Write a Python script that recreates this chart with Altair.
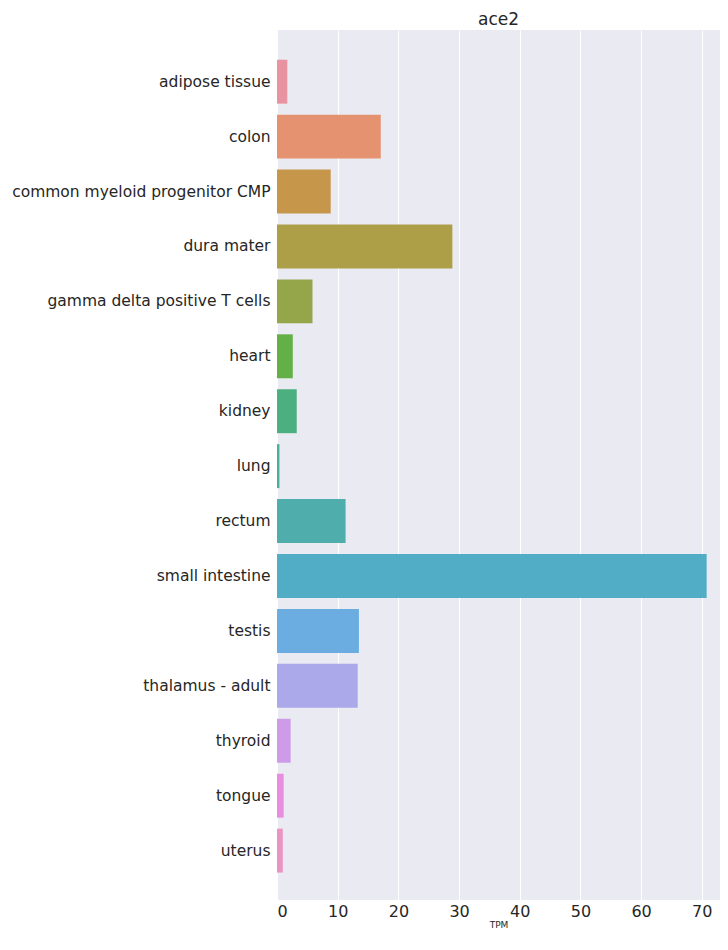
import altair as alt
import pandas as pd

tissues = [
    "adipose tissue", "colon", "common myeloid progenitor CMP", "dura mater",
    "gamma delta positive T cells", "heart", "kidney", "lung", "rectum",
    "small intestine", "testis", "thalamus - adult", "thyroid", "tongue", "uterus",
]
tpm = [1.7, 17.1, 8.85, 28.9, 5.85, 2.6, 3.25, 0.4, 11.3, 70.8, 13.5, 13.3, 2.25, 1.1, 0.95]
colors = [
    "#E8939F", "#E4926F", "#C6964B", "#AD9E48", "#94A54A", "#62B047", "#4BAF7F",
    "#4BAF98", "#4FADAC", "#51ADC5", "#6CADE1", "#ABA9EA", "#CE9BE8", "#E78FDE", "#EA94C4",
]
x_ticks = [0, 10, 20, 30, 40, 50, 60, 70]

df = pd.DataFrame({"tissue": tissues, "TPM": tpm})

font = "DejaVu Sans"

chart = alt.Chart(df).mark_bar(opacity=1).encode(
    y=alt.Y(
        "tissue:N",
        sort=None,
        scale=alt.Scale(paddingInner=0.2, paddingOuter=0.52, align=0.52),
        axis=alt.Axis(
            title=None, labelFontSize=15.5, labelColor="#262626", labelFont=font,
            ticks=False, domain=False, grid=False, labelPadding=7, labelLimit=400,
        ),
    ),
    x=alt.X(
        "TPM:Q",
        scale=alt.Scale(domain=[0, 73.0], nice=False, zero=True),
        axis=alt.Axis(
            values=x_ticks, title="TPM", titleFontSize=9, titleFontWeight="normal",
            titleColor="#262626", titleFont=font, labelFontSize=16, labelColor="#262626",
            labelFont=font, ticks=False, domain=False, grid=True, gridColor="white",
            gridWidth=1, labelPadding=3, titlePadding=1,
        ),
    ),
    color=alt.Color(
        "tissue:N",
        scale=alt.Scale(domain=tissues, range=colors),
        legend=None,
    ),
).properties(
    width=443,
    height=870,
    title=alt.TitleParams(
        "ace2", fontSize=17, font=font, fontWeight="normal", color="#262626",
        anchor="middle", offset=1,
    ),
    autosize=alt.AutoSizeParams(type="none"),
    padding={"left": 269, "top": 22, "right": 0, "bottom": 28},
).configure_view(
    fill="#EAEAF2", stroke=None
)

chart.save("out.html", embed_options={"renderer": "svg", "actions": False})
